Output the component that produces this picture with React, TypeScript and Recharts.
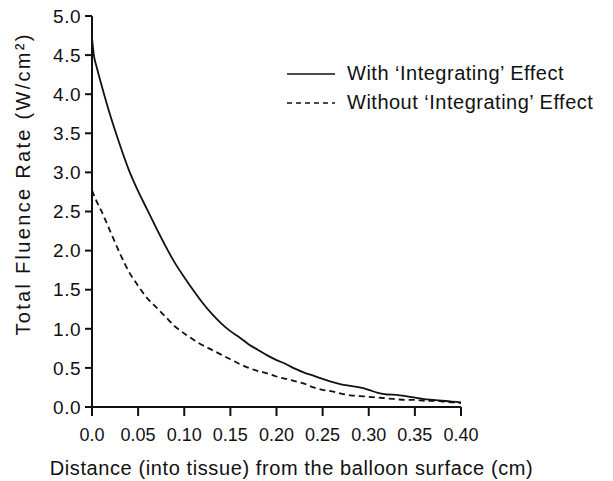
import React from "react";
import { LineChart, Line, XAxis, YAxis } from "recharts";

const distances = [0, 0.002, 0.005, 0.01, 0.02, 0.03, 0.04, 0.05, 0.06, 0.07, 0.08, 0.09, 0.1, 0.11, 0.12, 0.13, 0.14, 0.15, 0.16, 0.17, 0.18, 0.19, 0.2, 0.21, 0.22, 0.23, 0.24, 0.25, 0.26, 0.27, 0.28, 0.29, 0.3, 0.31, 0.32, 0.33, 0.34, 0.35, 0.36, 0.37, 0.38, 0.39, 0.4];
const withEffect = [4.72, 4.5, 4.35, 4.13, 3.72, 3.36, 3.03, 2.76, 2.52, 2.28, 2.05, 1.84, 1.66, 1.49, 1.33, 1.19, 1.07, 0.97, 0.89, 0.8, 0.73, 0.66, 0.6, 0.55, 0.49, 0.44, 0.4, 0.36, 0.32, 0.29, 0.27, 0.25, 0.22, 0.18, 0.16, 0.155, 0.14, 0.12, 0.1, 0.09, 0.08, 0.07, 0.06];
const withoutEffect = [2.77, 2.71, 2.63, 2.51, 2.24, 1.97, 1.73, 1.55, 1.39, 1.27, 1.15, 1.03, 0.94, 0.86, 0.79, 0.73, 0.67, 0.61, 0.55, 0.5, 0.46, 0.43, 0.39, 0.36, 0.33, 0.3, 0.25, 0.22, 0.2, 0.17, 0.15, 0.14, 0.13, 0.12, 0.11, 0.1, 0.09, 0.09, 0.08, 0.08, 0.07, 0.06, 0.05];
const xTicks = [0, 0.05, 0.1, 0.15, 0.2, 0.25, 0.3, 0.35, 0.4];
const xTickLabels = ["0.0", "0.05", "0.10", "0.15", "0.20", "0.25", "0.30", "0.35", "0.40"];
const yTicks = [0, 0.5, 1, 1.5, 2, 2.5, 3, 3.5, 4, 4.5, 5];
const seriesNames = ["With \u2018Integrating\u2019 Effect", "Without \u2018Integrating\u2019 Effect"];

const data = distances.map((d, i) => ({ d, a: withEffect[i], b: withoutEffect[i] }));

const FONT = "'Liberation Sans', Arial, sans-serif";

export default function App() {
  return (
    <div style={{ position: "absolute", left: 0, top: 0, width: 613, height: 481, background: "#fff" }}>
      <LineChart width={613} height={481} data={data} margin={{ top: 16, right: 152, left: 30, bottom: 0 }}>
        <XAxis
          dataKey="d"
          type="number"
          domain={[0, 0.4]}
          ticks={xTicks}
          tickFormatter={(v: number) => xTickLabels[xTicks.indexOf(v)] ?? String(v)}
          height={74}
          stroke="#111"
          strokeWidth={2}
          tickSize={9}
          tick={{ fill: "#111", fontSize: 18, fontFamily: FONT, dy: 10 }}
          label={{ value: "Distance (into tissue) from the balloon surface (cm)", position: "insideBottom", dx: 15, dy: -1, fill: "#111", fontSize: 20, fontFamily: FONT, letterSpacing: 0.6 }}
        />
        <YAxis
          type="number"
          domain={[0, 5]}
          ticks={yTicks}
          tickFormatter={(v: number) => v.toFixed(1)}
          width={62}
          stroke="#111"
          strokeWidth={2}
          tickSize={7}
          tick={{ fill: "#111", fontSize: 19, fontFamily: FONT, dx: -2, letterSpacing: 0.5 }}
          label={{ value: "Total Fluence Rate (W/cm\u00b2)", angle: -90, position: "insideLeft", dx: -12, dy: 124, fill: "#111", fontSize: 20, fontFamily: FONT, letterSpacing: 2.3 }}
        />
        <Line dataKey="a" name={seriesNames[0]} type="monotone" stroke="#111" strokeWidth={1.8} dot={false} isAnimationActive={false} />
        <Line dataKey="b" name={seriesNames[1]} type="monotone" stroke="#111" strokeWidth={1.8} strokeDasharray="6 4" dot={false} isAnimationActive={false} />
      </LineChart>
      <div style={{ position: "absolute", left: 287, top: 59, fontFamily: FONT, fontSize: 20, color: "#111", letterSpacing: 0.5 }}>
        {seriesNames.map((n, i) => (
          <div key={n} style={{ display: "flex", alignItems: "center", height: 29, whiteSpace: "nowrap" }}>
            <svg width={60} height={10} style={{ flex: "none" }}>
              <line x1={0} y1={5} x2={48} y2={5} stroke="#111" strokeWidth={1.6} strokeDasharray={i === 1 ? "5 4" : undefined} />
            </svg>
            <span>{n}</span>
          </div>
        ))}
      </div>
    </div>
  );
}
